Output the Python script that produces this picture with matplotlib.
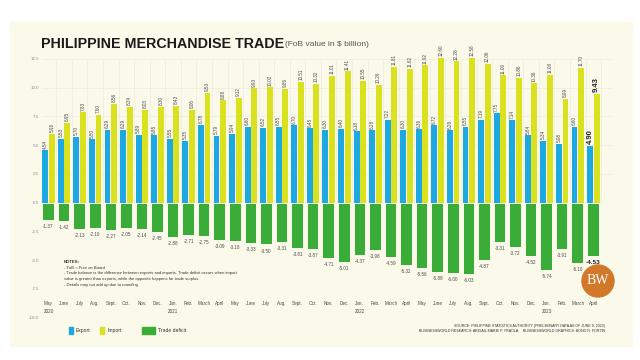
import matplotlib
matplotlib.use("Agg")
import matplotlib.pyplot as plt
from matplotlib.patches import Rectangle, Circle
import numpy as np

plt.rcParams['font.family'] = ['Liberation Sans Narrow', 'Liberation Sans', 'DejaVu Sans']

# FoB value in $ billion, May 2020 - April 2023
months = ['May', 'June', 'July', 'Aug.', 'Sept.', 'Oct.', 'Nov.', 'Dec.',
          'Jan.', 'Feb.', 'March', 'April'] * 3
years = {0: '2020', 8: '2021', 20: '2022', 32: '2023'}
exports = [4.54, 5.53, 5.70, 5.50, 6.29, 6.29, 5.89, 5.85, 5.55, 5.35, 6.78, 5.79,
           5.94, 6.60, 6.52, 6.55, 6.70, 6.45, 6.30, 6.40, 6.18, 6.28, 7.22, 6.30,
           6.36, 6.72, 6.28, 6.55, 7.19, 7.75, 7.14, 5.84, 5.34, 5.08, 6.60, 4.90]
imports = [5.96, 6.95, 7.83, 7.60, 8.56, 8.34, 8.03, 8.30, 8.43, 8.06, 9.53, 8.88,
           9.12, 9.93, 10.02, 9.86, 10.51, 10.32, 11.01, 11.41, 10.55, 10.26, 11.81, 11.62,
           11.92, 12.60, 12.28, 12.58, 12.06, 11.06, 10.86, 10.36, 11.08, 8.99, 11.70, 9.43]
deficit = [-1.37, -1.42, -2.13, -2.10, -2.27, -2.05, -2.14, -2.45, -2.88, -2.71, -2.75, -3.09,
           -3.18, -3.33, -3.50, -3.31, -3.81, -3.87, -4.71, -5.01, -4.37, -3.98, -4.59, -5.32,
           -5.56, -5.88, -6.00, -6.03, -4.87, -3.31, -3.72, -4.52, -5.74, -3.91, -5.10, -4.53]

c_exp = '#1ca8e3'
c_imp = '#dae21f'
c_def = '#39ad37'
c_txt = '#4a4a4a'

W, H = 640, 360
fig = plt.figure(figsize=(6.4, 3.6), dpi=100)
fig.patch.set_facecolor('white')
fig.add_artist(Rectangle((10 / W, 1 - 346 / H), 622 / W, 324 / H,
                         transform=fig.transFigure, color='#fbf9ea', zorder=0))

ax = fig.add_axes([42 / W, 1 - 322 / H, 570 / W, 270 / H])
ax.set_facecolor('none')
for s in ax.spines.values():
    s.set_visible(False)

n = len(exports)
x = np.arange(n)
ax.set_xlim(-0.42, 36.2)
ax.set_ylim(-10.39, 13.09)

# faint grid
for v in np.arange(2.5, 12.6, 2.5):
    ax.axhline(v, color='#eeecdb', lw=0.5, zorder=0)
for i in range(-1, n):
    ax.plot([i + 0.5, i + 0.5], [0, 12.5], color='#eeecdb', lw=0.5, zorder=0)

ax.bar(x - 0.21, exports, width=0.38, color=c_exp, zorder=2)
ax.bar(x + 0.21, imports, width=0.38, color=c_imp, zorder=2)
ax.bar(x, deficit, width=0.68, color=c_def, zorder=2, bottom=-0.15)

for i in range(n):
    last = i == n - 1
    fs = 5.5 if last else 3.3
    fw = 'bold' if last else 'normal'
    col = '#222222' if last else c_txt
    ax.text(i - 0.21, exports[i] + 0.15, f'{exports[i]:.2f}', rotation=90, ha='center',
            va='bottom', fontsize=fs, fontweight=fw, color=col)
    ax.text(i + 0.21, imports[i] + 0.15, f'{imports[i]:.2f}', rotation=90, ha='center',
            va='bottom', fontsize=fs, fontweight=fw, color=col)
    ax.text(i, deficit[i] - 0.5, f'{deficit[i]:.2f}', ha='center', va='top',
            fontsize=4.6 if last else 3.3, fontweight=fw, color=col)
    ax.text(i, -8.6, months[i], ha='center', va='top', fontsize=3.3, color=c_txt)
    if i in years:
        ax.text(i, -9.25, years[i], ha='center', va='top', fontsize=3.3, color=c_txt)

ticks = np.arange(-10, 12.6, 2.5)
ax.set_yticks(ticks)
ax.set_yticklabels([f'{t:.1f}' for t in ticks], fontsize=3.2, color='#888888')
ax.tick_params(axis='y', length=0, pad=2)
ax.set_xticks([])

# title
fig.text(41 / W, 1 - 44 / H, 'PHILIPPINE MERCHANDISE TRADE', fontsize=10.3,
         fontweight='bold', color='#1a1a1a', va='center')
fig.text(285 / W, 1 - 45 / H, r'(FoB value in \$ billion)', fontsize=6,
         color='#555555', va='center')

# notes
notes = ['- FoB = Free on Board',
         '- Trade balance is the difference between exports and imports. Trade deficit occurs when import',
         'value is greater than exports, while the opposite happens for trade surplus.',
         '- Details may not add up due to rounding.']
fig.text(64 / W, 1 - 262 / H, 'NOTES:', fontsize=3.1, fontweight='bold', color='#333333', va='center')
for k, line in enumerate(notes):
    fig.text(64 / W, 1 - (267.7 + 5.65 * k) / H, line, fontsize=3.0, color='#333333', va='center')

# legend
leg = [(68.5, 4, c_exp, 'Export'), (100, 4, c_imp, 'Import'), (142, 13, c_def, 'Trade deficit')]
for lx, lw, lc, lt in leg:
    fig.add_artist(Rectangle((lx / W, 1 - 334 / H), lw / W, 7 / H,
                             transform=fig.transFigure, color=lc))
    fig.text((lx + lw + 3) / W, 1 - 330.5 / H, lt, fontsize=3.6, color='#333333', va='center')

# source
fig.text(605 / W, 1 - 326 / H,
         'SOURCE: PHILIPPINE STATISTICS AUTHORITY (PRELIMINARY DATA AS OF JUNE 9, 2023)',
         fontsize=2.6, color='#333333', ha='right', va='center')
fig.text(605 / W, 1 - 331.5 / H,
         'BUSINESSWORLD RESEARCH: ABIGAIL MARIE P. YRAOLA     BUSINESSWORLD GRAPHICS: BONG R. FORTIN',
         fontsize=2.6, color='#333333', ha='right', va='center')

# logo
fig.add_artist(Circle((5.98, 3.6 - 2.81), 0.16, transform=fig.dpi_scale_trans,
                      color='#d2782a'))
fig.text(598 / W, 1 - 281 / H, 'BW', fontsize=10, color='white', ha='center', va='center',
         family=['Liberation Serif', 'DejaVu Serif'])

fig.savefig('out.png', dpi=100)
